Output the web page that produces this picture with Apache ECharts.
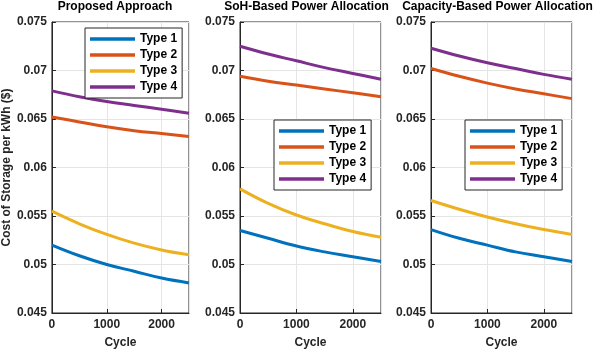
<!DOCTYPE html>
<html>
<head>
<meta charset="utf-8">
<script src="https://cdn.jsdelivr.net/npm/echarts@6/dist/echarts.min.js"></script>
<style>
  html, body { margin: 0; padding: 0; background: #fff; }
  #main { width: 598px; height: 354px; }
</style>
</head>
<body>
<div id="main"></div>
<script>
  var cycles = [0, 500, 1000, 1500, 2000, 2500]
  var typeNames = ['Type 1', 'Type 2', 'Type 3', 'Type 4']
  var panelTitles = ['Proposed Approach', 'SoH-Based Power Allocation', 'Capacity-Based Power Allocation']
  var yTickLabels = ['0.045', '0.05', '0.055', '0.06', '0.065', '0.07', '0.075']
  var xTickLabels = ['0', '1000', '2000']

  // Proposed approach
  var proposedType1 = [0.0520, 0.0509, 0.0500, 0.0493, 0.0486, 0.0481]
  var proposedType2 = [0.0652, 0.0647, 0.0642, 0.0638, 0.0635, 0.0632]
  var proposedType3 = [0.0555, 0.0542, 0.0531, 0.0522, 0.0515, 0.0510]
  var proposedType4 = [0.0679, 0.0673, 0.0668, 0.0664, 0.0660, 0.0656]
  // SoH-based
  var sohType1 = [0.0535, 0.0527, 0.0519, 0.0513, 0.0508, 0.0503]
  var sohType2 = [0.0694, 0.0689, 0.0685, 0.0681, 0.0677, 0.0673]
  var sohType3 = [0.0578, 0.0563, 0.0551, 0.0542, 0.0534, 0.0528]
  var sohType4 = [0.0725, 0.0717, 0.0710, 0.0703, 0.0697, 0.0691]
  // Capacity-based
  var capType1 = [0.0536, 0.0527, 0.0520, 0.0513, 0.0508, 0.0503]
  var capType2 = [0.0702, 0.0694, 0.0687, 0.0681, 0.0676, 0.0671]
  var capType3 = [0.0566, 0.0557, 0.0549, 0.0542, 0.0536, 0.0531]
  var capType4 = [0.0723, 0.0715, 0.0708, 0.0702, 0.0696, 0.0691]

  var panels = [
    [proposedType1, proposedType2, proposedType3, proposedType4],
    [sohType1, sohType2, sohType3, sohType4],
    [capType1, capType2, capType3, capType4]
  ]
  var colors = ['#0072BD', '#D95319', '#EDB120', '#7E2F8E']
  var font = 'Liberation Sans, Arial, sans-serif'

  var gridLefts = [49, 240, 431]
  var gridWidths = [140, 141, 141]
  var legendPos = [{ left: 85, top: 28 }, { left: 274, top: 120 }, { left: 465, top: 120 }]

  var grids = [], xAxes = [], yAxes = [], series = [], titles = [], legends = []

  for (var p = 0; p < 3; p++) {
    grids.push({
      left: gridLefts[p], top: 22, width: gridWidths[p], height: 297,
      show: true, borderColor: '#262626', borderWidth: 1, backgroundColor: '#fff'
    })
    titles.push({
      text: panelTitles[p],
      left: gridLefts[p] + gridWidths[p] / 2 - 4, top: 1, textAlign: 'center', padding: 0,
      textStyle: { fontFamily: font, fontSize: 12, fontWeight: 'bold', color: '#000' }
    })
    xAxes.push({
      type: 'value', gridIndex: p, min: 0, max: 2500, interval: 1000,
      name: 'Cycle', nameLocation: 'middle', nameGap: 24,
      nameTextStyle: { fontFamily: font, fontSize: 12, fontWeight: 'bold', color: '#262626' },
      axisLine: { lineStyle: { color: '#262626' } },
      axisTick: { inside: true, length: 4, lineStyle: { color: '#262626' } },
      axisLabel: {
        fontFamily: font, fontSize: 12, fontWeight: 'bold', color: '#262626', margin: 6,
        showMaxLabel: false,
        formatter: function (v) { return xTickLabels[Math.round(v / 1000)] || '' }
      },
      splitLine: { show: true, lineStyle: { color: '#e5e5e5' } }
    })
    yAxes.push({
      type: 'value', gridIndex: p, min: 0.045, max: 0.075, interval: 0.005,
      name: p === 0 ? 'Cost of Storage per kWh ($)' : '',
      nameLocation: 'middle', nameGap: 36,
      nameTextStyle: { fontFamily: font, fontSize: 12, fontWeight: 'bold', color: '#262626' },
      axisLine: { lineStyle: { color: '#262626' } },
      axisTick: { inside: true, length: 4, lineStyle: { color: '#262626' } },
      axisLabel: {
        fontFamily: font, fontSize: 12, fontWeight: 'bold', color: '#262626', margin: 5,
        formatter: function (v) { return yTickLabels[Math.round((v - 0.045) / 0.005)] }
      },
      splitLine: { show: true, lineStyle: { color: '#e5e5e5' } }
    })
    legends.push({
      left: legendPos[p].left, top: legendPos[p].top,
      orient: 'vertical', icon: 'rect', itemWidth: 45, itemHeight: 3.5, itemGap: 4,
      padding: [5, 5, 5, 5],
      backgroundColor: '#fff', borderColor: '#262626', borderWidth: 1, borderRadius: 0,
      data: typeNames,
      selectedMode: false,
      textStyle: { fontFamily: font, fontSize: 12, fontWeight: 'bold', color: '#000' }
    })
    for (var t = 0; t < 4; t++) {
      series.push({
        name: typeNames[t], type: 'line', xAxisIndex: p, yAxisIndex: p,
        data: cycles.map(function (c, i) { return [c, panels[p][t][i]] }),
        smooth: 0.4, showSymbol: false, symbol: 'none',
        lineStyle: { width: 3, color: colors[t] }, itemStyle: { color: colors[t] }
      })
    }
  }

  var myChart = echarts.init(document.getElementById('main'))
  myChart.setOption({
    backgroundColor: '#fff',
    animation: false,
    color: colors,
    title: titles,
    legend: legends,
    grid: grids,
    xAxis: xAxes,
    yAxis: yAxes,
    series: series
  })
</script>
</body>
</html>
